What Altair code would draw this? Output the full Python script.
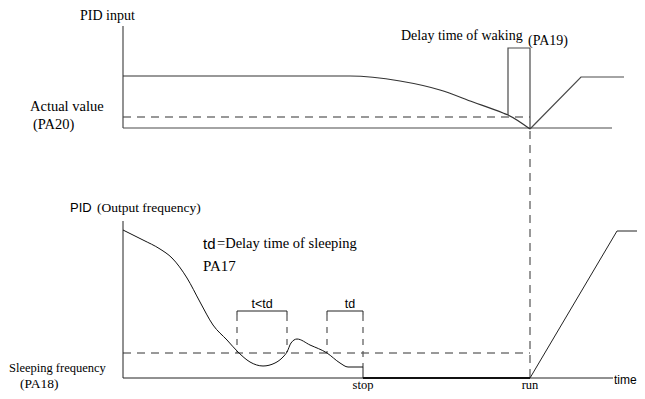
import altair as alt
import pandas as pd

# ---- diagram geometry (reference coordinates) ----
# top panel: PID input
top_axis_x = [123, 123]; top_axis_y = [26, 128]
top_base_x = [123, 612]; top_base_y = [128, 128]
top_curve_x = [123, 350, 400, 440, 473, 503, 508, 530]
top_curve_y = [76, 76, 81, 90, 102, 113, 115, 129]
top_rise_x = [530, 581, 624]; top_rise_y = [129, 77, 77]
wake_br_x = [508, 508, 530, 530]; wake_br_y = [115, 48, 48, 129]
top_dash_x = [123, 530]; top_dash_y = [117, 117]
mid_dash_x = [530, 530]; mid_dash_y = [131, 378]

# bottom panel: output frequency
bot_axis_x = [123, 123]; bot_axis_y = [221, 378]
bot_base_x = [123, 613]; bot_base_y = [378, 378]
out_curve_x = [123, 143, 160, 172, 187, 200, 213, 227, 238, 250, 263, 275, 283, 287, 291, 297, 310, 327, 340, 348, 363]
out_curve_y = [230, 240, 249, 258, 278, 302, 325, 340, 352, 362, 366, 363, 357, 352, 343, 339, 345, 353, 363, 367, 367]
drop_x = [363, 363]; drop_y = [367, 378]
stop_x = [363, 530]; stop_y = [378, 378]
run_x = [530, 617, 645]; run_y = [378, 231, 231]
sleep_dash_x = [123, 530]; sleep_dash_y = [353, 353]
br1_x = [237, 237, 287, 287]; br1_y = [315, 311, 311, 315]
br2_x = [327, 327, 363, 363]; br2_y = [315, 311, 311, 315]
brd_x = [237, 287, 327, 363]; brd_top = [315, 315, 315, 315]; brd_bot = [353, 352, 353, 367]

# text labels
serif_txt = ["PID input", "Delay time of waking", "(PA19)", "Actual value", "(PA20)", "(Output frequency)",
             "=Delay time of sleeping", "PA17", "Sleeping frequency", "(PA18)", "stop", "run"]
serif_x = [80, 401, 528, 30, 33, 97, 217, 203, 9, 20, 363, 530]
serif_y = [16, 36, 41, 107, 125, 208, 244, 266, 368, 384, 385, 385]
serif_size = [14, 14, 14, 14.5, 14.5, 13.5, 14.5, 15, 12.5, 13.5, 12.5, 12.5]
serif_align = ["left"] * 10 + ["center", "center"]

sans_txt = ["PID", "td", "t<td", "td", "time"]
sans_x = [70, 203, 262, 350, 614]
sans_y = [208, 244, 304, 304, 380]
sans_size = [13, 15, 12.5, 12.5, 12]
sans_align = ["left", "left", "center", "center", "left"]

X0, X1, Y0, Y1 = 8, 637, 8, 391


def seg_df(name, xs, ys):
    return pd.DataFrame({"seg": name, "i": range(len(xs)), "x": xs, "y": ys})


X = alt.X("x:Q", scale=alt.Scale(domain=[X0, X1], nice=False, zero=False), axis=None)
Y = alt.Y("y:Q", scale=alt.Scale(domain=[Y0, Y1], nice=False, zero=False, reverse=True), axis=None)


def lines(dfs, color, width=1, dash=None, interp="linear"):
    df = pd.concat(dfs, ignore_index=True)
    kw = dict(color=color, strokeWidth=width, interpolate=interp, clip=True)
    if dash:
        kw["strokeDash"] = dash
    return alt.Chart(df).mark_line(**kw).encode(x=X, y=Y, detail="seg:N", order="i:Q")


gray_solid = lines([seg_df("ta", top_axis_x, top_axis_y), seg_df("tb", top_base_x, top_base_y),
                    seg_df("tr", top_rise_x, top_rise_y), seg_df("wb", wake_br_x, wake_br_y)],
                   "#4a4a4a", 1.2)
gray_curve = lines([seg_df("tc", top_curve_x, top_curve_y)], "#333333", 1.2, interp="monotone")
gray_dash = lines([seg_df("td", top_dash_x, top_dash_y), seg_df("md", mid_dash_x, mid_dash_y)],
                  "#777777", 1.5, dash=[8, 6])

black_solid = lines([seg_df("ba", bot_axis_x, bot_axis_y), seg_df("bb", bot_base_x, bot_base_y),
                     seg_df("dr", drop_x, drop_y), seg_df("rn", run_x, run_y),
                     seg_df("b1", br1_x, br1_y), seg_df("b2", br2_x, br2_y)],
                    "#222222", 1)
black_curve = lines([seg_df("oc", out_curve_x, out_curve_y)], "#111111", 1, interp="monotone")
stop_line = lines([seg_df("st", stop_x, stop_y)], "#111111", 2)
black_dash = lines([seg_df("sd", sleep_dash_x, sleep_dash_y)], "#333333", 1, dash=[8, 6])

brd = pd.DataFrame({"x": brd_x, "y": brd_top, "y2": brd_bot})
bracket_dash = alt.Chart(brd).mark_rule(color="#555555", strokeWidth=1.2, strokeDash=[6, 6]).encode(
    x=X, y=Y, y2="y2:Q")

serif_df = pd.DataFrame({"t": serif_txt, "x": serif_x, "y": serif_y, "s": serif_size, "a": serif_align})
sans_df = pd.DataFrame({"t": sans_txt, "x": sans_x, "y": sans_y, "s": sans_size, "a": sans_align})


def texts(df, font):
    layers = []
    for al in ["left", "center"]:
        sub = df[df["a"] == al]
        if len(sub) == 0:
            continue
        layers.append(alt.Chart(sub).mark_text(font=font, align=al, baseline="middle", color="#000000").encode(
            x=X, y=Y, text="t:N", size=alt.Size("s:Q", scale=None, legend=None)))
    return layers


chart = alt.layer(
    gray_dash, black_dash, bracket_dash, gray_solid, gray_curve, black_solid, black_curve, stop_line,
    *texts(serif_df, "Liberation Serif"), *texts(sans_df, "Liberation Sans"),
).properties(
    width=X1 - X0, height=Y1 - Y0, padding=0, autosize=alt.AutoSizeParams(type="none"),
    background="white",
).configure_view(stroke=None)

chart.save("out.html", embed_options={"renderer": "svg", "actions": False})
